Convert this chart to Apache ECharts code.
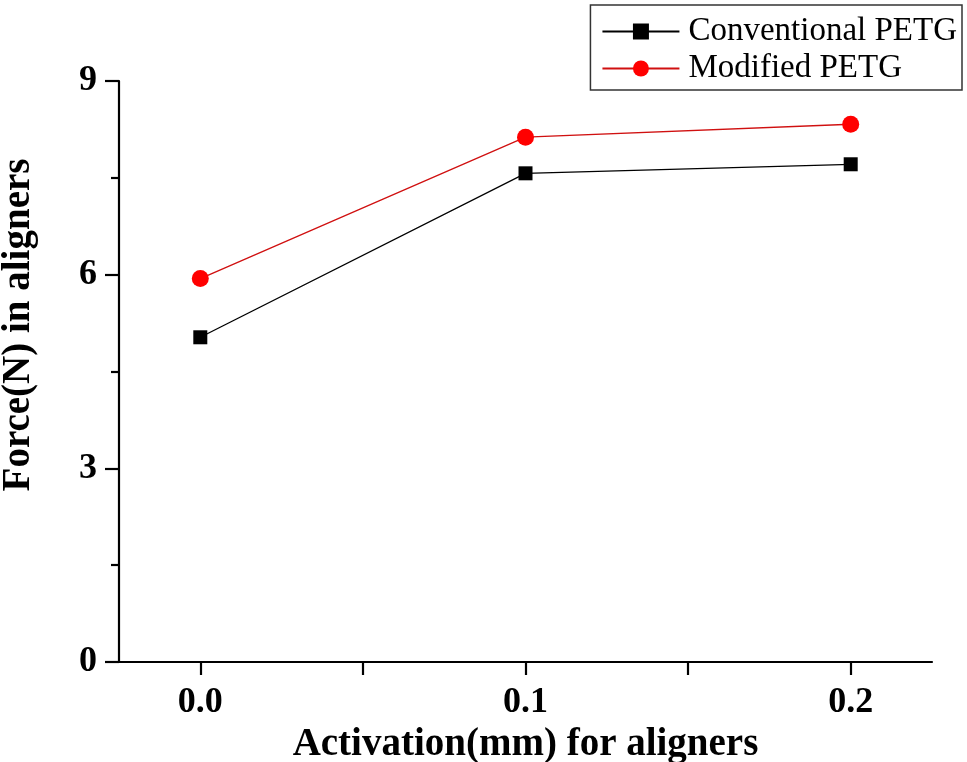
<!DOCTYPE html>
<html><head><meta charset="utf-8">
<script src="https://cdn.jsdelivr.net/npm/echarts@6/dist/echarts.min.js"></script>
<style>html,body{margin:0;padding:0;background:#fff}#c{width:967px;height:762px}</style>
</head><body><div id="c"></div>
<script>
const activation = [0.0, 0.1, 0.2];
const conventional = [5.03, 7.57, 7.71];
const modified = [5.94, 8.13, 8.33];
const seriesNames = ['Conventional PETG', 'Modified PETG'];
const xTickValues = [0.0, 0.05, 0.1, 0.15, 0.2];
const xLabelValues = [0.0, 0.1, 0.2];

const serif = 'Liberation Serif, Times New Roman, serif';
const chart = echarts.init(document.getElementById('c'));
chart.setOption({
  backgroundColor: '#fff',
  animation: false,
  grid: {left: 119, top: 81, right: 35, bottom: 100, containLabel: false, outerBoundsMode: 'none'},
  legend: {
    orient: 'vertical', right: 5, top: 5,
    borderColor: '#333', borderWidth: 1.5, backgroundColor: '#fff',
    padding: [10, 5, 5, 11], itemGap: 4,
    itemWidth: 77, itemHeight: 20,
    textStyle: {fontFamily: serif, fontSize: 33, color: '#000', padding: [0, 0, 0, 4]},
    data: seriesNames
  },
  xAxis: {
    type: 'value', min: -0.025, max: 0.225, interval: 0.025,
    axisLine: {onZero: false, lineStyle: {color: '#000', width: 2.2}},
    axisTick: {show: true, inside: false, length: 13, customValues: xTickValues,
      lineStyle: {color: '#000', width: 2.2}},
    splitLine: {show: false},
    name: 'Activation(mm) for aligners', nameLocation: 'middle', nameGap: 63,
    nameTextStyle: {fontFamily: serif, fontWeight: 'bold', fontSize: 39, color: '#000'},
    axisLabel: {
      fontFamily: serif, fontWeight: 'bold', fontSize: 36, color: '#000', margin: 23,
      customValues: xLabelValues,
      formatter: function (v) { return v.toFixed(1); }
    }
  },
  yAxis: {
    type: 'value', min: 0, max: 9, interval: 3,
    axisLine: {onZero: false, lineStyle: {color: '#000', width: 2.2}},
    axisTick: {show: true, inside: false, length: 14, lineStyle: {color: '#000', width: 2.2}},
    minorTick: {show: true, splitNumber: 2, length: 8, lineStyle: {color: '#000', width: 2.2}},
    splitLine: {show: false},
    name: 'Force(N) in aligners', nameLocation: 'middle', nameGap: 81,
    nameTextStyle: {fontFamily: serif, fontWeight: 'bold', fontSize: 39, color: '#000',
      padding: [0, 0, 0, 93]},
    axisLabel: {fontFamily: serif, fontWeight: 'bold', fontSize: 36, color: '#000', margin: 22}
  },
  series: [
    {
      name: seriesNames[0], type: 'line',
      data: activation.map((x, i) => [x, conventional[i]]),
      symbol: 'rect', symbolSize: 14,
      itemStyle: {color: '#000'}, lineStyle: {color: '#000', width: 1.3}
    },
    {
      name: seriesNames[1], type: 'line',
      data: activation.map((x, i) => [x, modified[i]]),
      symbol: 'circle', symbolSize: 17,
      itemStyle: {color: '#f00'}, lineStyle: {color: '#d01010', width: 1.3}
    }
  ]
});
</script></body></html>
